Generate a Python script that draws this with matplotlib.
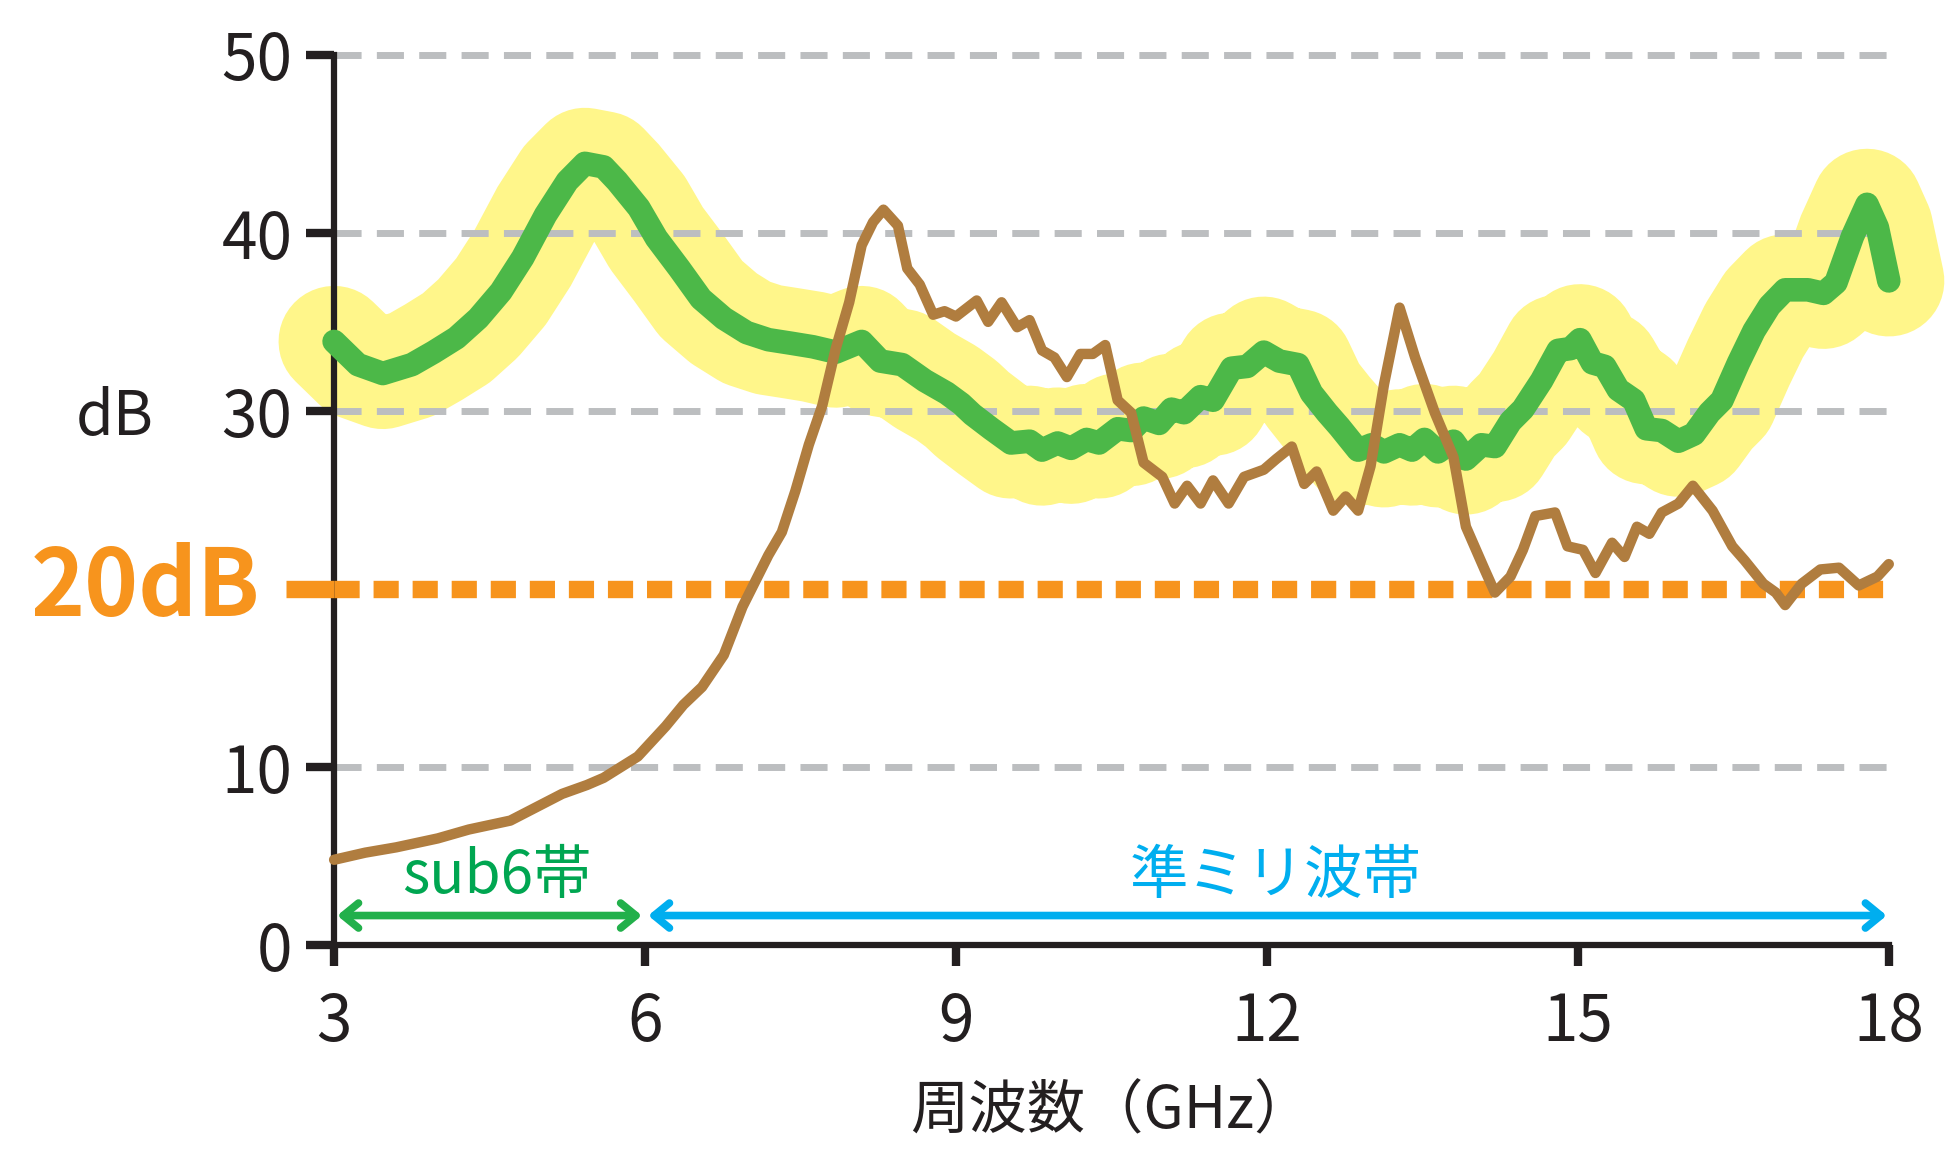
import matplotlib
matplotlib.use("Agg")
import matplotlib.pyplot as plt
from matplotlib.patches import FancyArrowPatch
import matplotlib.transforms as mtransforms

plt.rcParams['font.family'] = ['Noto Sans CJK JP', 'DejaVu Sans']

# green (with yellow glow) series
green_x = [3.0, 3.23, 3.47, 3.75, 3.96, 4.18, 4.39, 4.61, 4.82, 5.04, 5.25, 5.42, 5.60, 5.73,
           5.94, 6.11, 6.33, 6.54, 6.76, 6.98, 7.19, 7.41, 7.62, 7.84, 8.09, 8.27, 8.48, 8.70,
           8.91, 9.05, 9.16, 9.34, 9.53, 9.71, 9.83, 9.98, 10.11, 10.26, 10.38, 10.56, 10.69,
           10.81, 10.96, 11.08, 11.20, 11.36, 11.48, 11.66, 11.81, 11.97, 12.12, 12.30, 12.43,
           12.58, 12.70, 12.88, 13.01, 13.13, 13.28, 13.40, 13.52, 13.65, 13.80, 13.92, 14.07,
           14.20, 14.35, 14.47, 14.65, 14.81, 14.93, 15.02, 15.14, 15.26, 15.39, 15.54, 15.66,
           15.81, 15.97, 16.12, 16.27, 16.39, 16.55, 16.70, 16.85, 17.0, 17.22, 17.37, 17.49,
           17.65, 17.79, 17.89, 18.0]
green_y = [33.9, 32.6, 32.1, 32.6, 33.3, 34.1, 35.2, 36.7, 38.6, 41.0, 42.9, 43.9, 43.7, 42.9,
           41.4, 39.7, 38.0, 36.3, 35.2, 34.4, 34.0, 33.8, 33.6, 33.3, 33.9, 32.8, 32.6, 31.7,
           31.0, 30.4, 29.8, 29.0, 28.2, 28.3, 27.8, 28.2, 27.9, 28.4, 28.2, 29.0, 28.9,
           29.6, 29.3, 30.1, 29.9, 30.8, 30.6, 32.4, 32.5, 33.3, 32.8, 32.6, 31.0,
           29.9, 29.1, 27.8, 28.1, 27.7, 28.1, 27.8, 28.4, 27.7, 28.3, 27.3, 28.1,
           28.0, 29.4, 30.1, 31.7, 33.4, 33.5, 34.0, 32.7, 32.5, 31.2, 30.6, 29.0,
           28.9, 28.3, 28.7, 29.9, 30.6, 32.7, 34.5, 35.9, 36.8, 36.8, 36.6, 37.2,
           39.8, 41.6, 40.3, 37.3]

# brown series
brown_x = [3.0, 3.3, 3.6, 4.0, 4.3, 4.7, 5.0, 5.2, 5.44, 5.6, 5.93, 6.2, 6.37, 6.55, 6.76,
           6.94, 7.19, 7.32, 7.45, 7.58, 7.71, 7.84, 7.97, 8.09, 8.20, 8.30, 8.44, 8.53, 8.65,
           8.78, 8.89, 9.0, 9.2, 9.31, 9.44, 9.59, 9.71, 9.83, 9.95, 10.07, 10.2, 10.32, 10.44,
           10.56, 10.69, 10.81, 10.99, 11.11, 11.23, 11.36, 11.48, 11.63, 11.78, 11.97, 12.09,
           12.24, 12.36, 12.48, 12.64, 12.76, 12.88, 13.0, 13.13, 13.28, 13.43, 13.62, 13.80,
           13.92, 14.10, 14.2, 14.35, 14.47, 14.59, 14.78, 14.90, 15.05, 15.17, 15.33, 15.45,
           15.57, 15.69, 15.81, 15.97, 16.11, 16.30, 16.49, 16.61, 16.79, 16.91, 17.0, 17.16,
           17.34, 17.52, 17.71, 17.89, 18.0]
brown_y = [4.8, 5.2, 5.5, 6.0, 6.5, 7.0, 7.9, 8.5, 9.0, 9.4, 10.6, 12.3, 13.5, 14.5, 16.3,
           19.0, 21.9, 23.2, 25.5, 28.1, 30.3, 33.5, 36.1, 39.3, 40.6, 41.3, 40.4, 38.0, 37.1,
           35.4, 35.6, 35.3, 36.2, 35.0, 36.1, 34.7, 35.1, 33.4, 33.0, 31.9, 33.2, 33.2, 33.7,
           30.6, 29.9, 27.1, 26.3, 24.8, 25.8, 24.8, 26.1, 24.8, 26.3, 26.7, 27.3,
           28.0, 25.9, 26.6, 24.4, 25.2, 24.4, 26.9, 31.5, 35.8, 33.0, 29.9, 27.4,
           23.5, 21.1, 19.8, 20.7, 22.2, 24.1, 24.3, 22.4, 22.2, 20.9, 22.6, 21.8,
           23.5, 23.1, 24.3, 24.8, 25.8, 24.4, 22.4, 21.6, 20.3, 19.8, 19.1, 20.3,
           21.1, 21.2, 20.2, 20.7, 21.4]

threshold = 20
grid_levels = [10, 30, 40, 50]
x_ticks = [3, 6, 9, 12, 15, 18]
y_ticks = [0, 10, 30, 40, 50]

dark = '#231f20'
orange = '#f7941d'

fig = plt.figure(figsize=(19.47, 11.49), dpi=100)
ax = fig.add_axes([0.1716, 0.1773, 0.7985, 0.7751])

ax.plot(green_x, green_y, color='#fff68a', lw=80, solid_capstyle='round',
        solid_joinstyle='round', zorder=1, clip_on=False)
for g in grid_levels:
    ax.plot([3, 18], [g, g], color='#bcbec0', lw=5, dashes=(3.9, 2.2), zorder=2, clip_on=False)
ax.plot(green_x, green_y, color='#4cb848', lw=17, solid_capstyle='round',
        solid_joinstyle='round', zorder=3, clip_on=False)
ax.plot([3, 18], [threshold, threshold], color=orange, lw=12.5, dashes=(1.45, 0.8),
        zorder=4, clip_on=False)
# solid orange stub left of the axis at 20 dB
trans_y = mtransforms.blended_transform_factory(ax.transAxes, ax.transData)
ax.plot([-0.031, 0], [threshold, threshold], color=orange, lw=12.5, solid_capstyle='butt',
        transform=trans_y, clip_on=False, zorder=4)
ax.plot(brown_x, brown_y, color='#b07d3f', lw=7.5, solid_capstyle='round',
        solid_joinstyle='round', zorder=5, clip_on=False)

# band arrows
arr_g = FancyArrowPatch((3.03, 1.67), (5.97, 1.67), arrowstyle='<->,head_length=0.55,head_width=0.45',
                        mutation_scale=20, color='#22b04b', lw=5.5, shrinkA=0, shrinkB=0, zorder=6)
arr_b = FancyArrowPatch((6.03, 1.67), (17.98, 1.67), arrowstyle='<->,head_length=0.55,head_width=0.45',
                        mutation_scale=20, color='#00aeef', lw=5.5, shrinkA=0, shrinkB=0, zorder=6)
ax.add_patch(arr_g)
ax.add_patch(arr_b)
ax.text(4.57, 3.85, 'sub6帯', color='#00a651', fontsize=42, ha='center', va='center')
ax.text(12.08, 3.85, '準ミリ波帯', color='#00aeef', fontsize=42, ha='center', va='center')

ax.set_xlim(3, 18)
ax.set_ylim(0, 50)
for s in ['top', 'right']:
    ax.spines[s].set_visible(False)
for s in ['left', 'bottom']:
    ax.spines[s].set_linewidth(4.5)
    ax.spines[s].set_color(dark)

ax.set_xticks(x_ticks)
ax.set_yticks(y_ticks)
ax.tick_params(axis='both', length=20, width=6, color=dark, labelcolor=dark, labelsize=46)
ax.tick_params(axis='x', length=15, pad=17)
ax.tick_params(axis='y', pad=10)

trans = mtransforms.blended_transform_factory(fig.transFigure, ax.transData)
ax.text(0.0746, 20, '20dB', transform=trans, color=orange, fontsize=66, fontweight='bold',
        ha='center', va='center')
ax.text(0.0587, 29.6, 'dB', transform=trans, color=dark, fontsize=44, ha='center', va='center')

ax.set_xlabel('周波数（GHz）', fontsize=42, color=dark, labelpad=18)

fig.savefig('out.png', dpi=100)
